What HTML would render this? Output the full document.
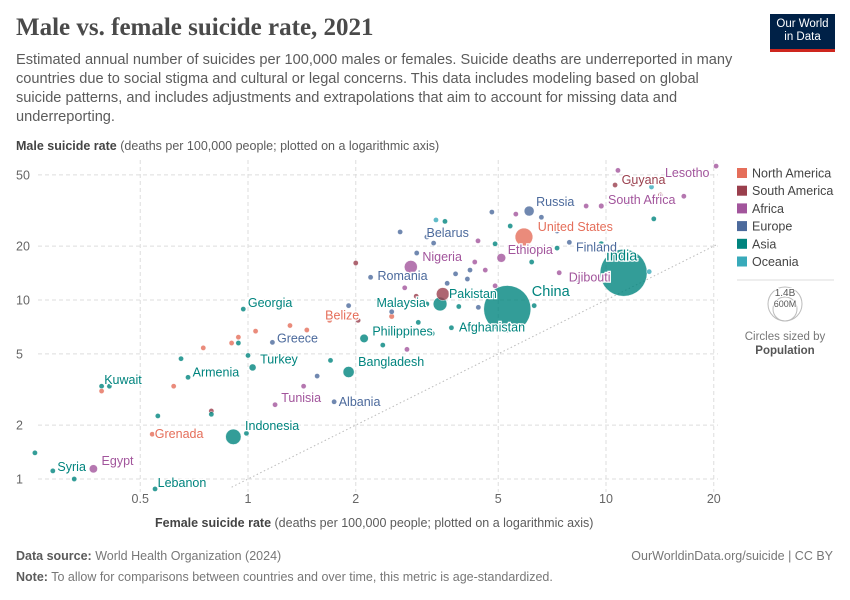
<!DOCTYPE html>
<html><head><meta charset="utf-8">
<style>
body{margin:0;background:#fff;font-family:"Liberation Sans",sans-serif;}
#wrap{position:relative;width:850px;height:600px;overflow:hidden;}
.t{position:absolute;white-space:nowrap;}
</style></head>
<body>
<div id="wrap">
<div class="t" style="left:16px;top:14px;font-family:'Liberation Serif',serif;font-size:25px;font-weight:bold;color:#4a4a4a;">Male vs. female suicide rate, 2021</div>
<div class="t" style="left:16px;top:51px;font-size:14.6px;line-height:19px;color:#5b5b5b;white-space:normal;width:720px;">Estimated annual number of suicides per 100,000 males or females. Suicide deaths are underreported in many countries due to social stigma and cultural or legal concerns. This data includes modeling based on global suicide patterns, and includes adjustments and extrapolations that aim to account for missing data and underreporting.</div>
<div style="position:absolute;left:770px;top:14px;width:65px;height:38px;background:#002147;border-bottom:3px solid #ce261e;color:#fff;font-size:11.5px;line-height:13px;text-align:center;padding-top:4px;box-sizing:border-box;">Our World<br>in Data</div>
<div class="t" style="left:16px;top:139px;font-size:12.5px;color:#5b5b5b;"><b style="color:#444">Male suicide rate</b> (deaths per 100,000 people; plotted on a logarithmic axis)</div>
<div class="t" style="left:155px;top:516px;font-size:12.5px;color:#5b5b5b;"><b style="color:#444">Female suicide rate</b> (deaths per 100,000 people; plotted on a logarithmic axis)</div>
<div class="t" style="left:16px;top:549px;font-size:12.5px;color:#777;"><b style="color:#5b5b5b">Data source:</b> World Health Organization (2024)</div>
<div class="t" style="right:17px;top:549px;font-size:12.5px;color:#777;">OurWorldinData.org/suicide | CC BY</div>
<div class="t" style="left:16px;top:570px;font-size:12.5px;color:#777;"><b style="color:#5b5b5b">Note:</b> To allow for comparisons between countries and over time, this metric is age-standardized.</div>
<svg id="plot" width="850" height="600" style="position:absolute;left:0;top:0;" font-family="Liberation Sans, sans-serif"></svg>
</div>
<script>
const xTicks=[0.5,1,2,5,10,20];
const yTicks=[1,2,5,10,20,50];
const legendRegions=["North America","South America","Africa","Europe","Asia","Oceania"];
const regionColors={"North America":"#e56e5a","South America":"#9a3f4d","Africa":"#a2559c","Europe":"#4c6a9c","Asia":"#00847e","Oceania":"#38aaba"};
// labeled countries
const labNames=["India","China","United States","Russia","Guyana","Lesotho","South Africa","Belarus","Ethiopia","Nigeria","Romania","Finland","Djibouti","Pakistan","Malaysia","Afghanistan","Philippines","Bangladesh","Georgia","Belize","Greece","Turkey","Armenia","Kuwait","Tunisia","Albania","Grenada","Indonesia","Egypt","Syria","Lebanon"];
const labRegion=["Asia","Asia","North America","Europe","South America","Africa","Africa","Europe","Africa","Africa","Europe","Europe","Africa","Asia","Asia","Asia","Asia","Asia","Asia","North America","Europe","Asia","Asia","Asia","Africa","Europe","North America","Asia","Africa","Asia","Asia"];
const labFemale=[11.2,5.3,5.9,6.1,10.6,20.3,9.7,3.16,5.1,2.85,2.54,7.9,7.4,3.44,3.16,3.7,2.11,1.91,0.97,1.69,1.17,1.03,0.68,0.39,1.43,1.74,0.54,0.91,0.37,0.285,0.55];
const labMale=[14.2,8.9,22.5,31.4,43.9,56,33.5,22.5,17.2,15.3,13.6,21,14.2,9.5,9.5,7.0,6.1,3.96,8.9,7.7,5.8,4.2,3.7,3.3,3.3,2.7,1.78,1.72,1.14,1.11,0.88];
const labPop=[1408,1412,335,144,0.8,2.3,60,9.3,120,213,19,5.5,1.1,231,33,40,113,169,3.7,0.4,10.4,85,2.8,4.3,12,2.8,0.12,274,109,21,5.6];
// label offsets (text placement, not data)
const labOff=[[-2,-16,'middle',14.5],[-1,-17,'start',14.5],[3,-10,'start',12.5],[0,-9,'start',12.5],[2,-5,'start',12.5],[-2,7,'end',12.5],[2,-6,'start',12.5],[-5,-4,'start',12.5],[0,-8,'start',12.5],[3,-10,'start',12.5],[-20,0,'start',12.5],[2,5,'start',12.5],[5,5,'start',12.5],[0,-10,'start',12.5],[-55,-1,'start',12.5],[3,0,'start',12.5],[2,-7,'start',12.5],[2,-10,'start',12.5],[0,-6,'start',12.5],[-9,-5,'start',12.5],[0,-4,'start',12.5],[2,-8,'start',12.5],[0,-5,'start',12.5],[-2,-6,'start',12.5],[-27,12,'start',12.5],[0,0,'start',12.5],[-2,0,'start',12.5],[2,-11,'start',12.5],[2,-8,'start',12.5],[0,-4,'start',12.5],[-2,-6,'start',12.5]];
// unlabeled countries
const uRegion=["Oceania","South America","South America","Asia","Oceania","Africa","Asia","Oceania","Asia","Europe","Africa","Oceania","Europe","Asia","Africa","Africa","Africa","Europe","Europe","Europe","Europe","Europe","Europe","Oceania","Asia","Europe","South America","Europe","Africa","Europe","Europe","South America","North America","South America","South America","Asia","Europe","Asia","Asia","Asia","Europe","Asia","Asia","Africa","Asia","Asia","Europe","Europe","North America","North America","North America","North America","North America","Asia","Asia","North America","Asia","North America","North America","Asia","Asia","South America","Asia","Africa","Asia","Asia","Asia","Africa","Africa","Europe","Africa"];
const uFemale=[13.4,11.9,14.2,13.6,11.5,8.8,9.7,13.2,5.4,4.8,5.6,5.75,7.3,4.9,4.39,4.3,4.6,4.17,4.1,3.8,3.6,2.96,3.3,3.35,3.55,2.66,2.0,2.2,2.74,2.52,1.91,2.03,2.52,2.95,3.5,3.88,4.4,6.3,6.2,7.3,8.4,3.27,2.99,2.78,2.38,1.7,1.56,1.55,1.46,1.31,1.05,0.94,0.9,0.94,1.0,0.75,0.65,0.62,0.39,0.41,0.56,0.79,0.79,1.19,0.99,0.254,0.327,16.5,10.8,6.6,4.9];
const uMale=[42.8,44.5,38.6,28.4,34.8,33.5,20.6,14.4,25.9,31,30.2,19.5,24.3,20.6,21.4,16.3,14.7,14.7,13.1,14,12.4,18.3,20.8,28,27.5,24,16.1,13.4,11.7,8.6,9.3,7.7,8.1,10.5,10.8,9.2,9.1,9.3,16.3,19.5,12.8,6.5,7.5,5.3,5.6,4.6,3.76,6.1,6.8,7.2,6.7,6.2,5.75,5.75,4.9,5.4,4.7,3.3,3.1,3.3,2.25,2.4,2.3,2.6,1.8,1.4,1.0,38,53,29,12];
const uPop=[1,3,0.8,30,0.3,20,60,0.3,30,10,25,0.5,6,4,15,12,30,10,5,7,30,3,2,0.5,35,5,5,4,20,17,8,10,60,7,210,10,5,5,5,30,5,10,5,5,6,30,3,2,1,1,1,0.5,0.3,5,35,1,3,1,1,5,4,10,10,10,6,1,1,2,12,2,10];

const svg=document.getElementById('plot');
const NS='http://www.w3.org/2000/svg';
const X=v=>248+358*Math.log10(v);
const Y=v=>479-179*Math.log10(v);
const R=p=>Math.max(2.6,23.5*Math.pow(p/1412,0.68));
function mk(tag,attrs,parent){const e=document.createElementNS(NS,tag);for(const k in attrs)e.setAttribute(k,attrs[k]);(parent||svg).appendChild(e);return e;}

const grid=mk('g',{});


yTicks.forEach(v=>{
  const l=mk('line',{x1:38,x2:718,y1:Y(v),y2:Y(v),stroke:'#ddd','stroke-dasharray':'4,3'},grid);
  
  
  const t=mk('text',{x:16,y:Y(v)+4.5,'font-size':12.5,fill:'#666'});
  t.textContent=v;
  
  
});
xTicks.forEach(v=>{
  const l=mk('line',{x1:X(v),x2:X(v),y1:160,y2:492,stroke:'#ddd','stroke-dasharray':'4,3'},grid);
  
  
  const t=mk('text',{x:X(v),y:503,'font-size':12.5,fill:'#666','text-anchor':'middle'});
  t.textContent=v;
  
  
});
const diag=mk('line',{x1:X(0.9),y1:Y(0.9),x2:X(20.5),y2:Y(20.5),stroke:'#bbb','stroke-dasharray':'1.5,2.5'});



const pts=[];
uFemale.forEach((f,i)=>pts.push({x:f,y:uMale[i],p:uPop[i],r:uRegion[i],n:null}));
labFemale.forEach((f,i)=>pts.push({x:f,y:labMale[i],p:labPop[i],r:labRegion[i],n:i}));
pts.sort((a,b)=>b.p-a.p);
pts.forEach(d=>{
  const c=mk('circle',{cx:X(d.x),cy:Y(d.y),r:R(d.p),fill:regionColors[d.r],'fill-opacity':0.8,stroke:'#fff','stroke-width':0.4});
  
  
});
labNames.forEach((n,i)=>{
  const o=labOff[i];const r=R(labPop[i]);
  let dx=o[2]==='end'?-r-2+o[0]:(o[2]==='middle'?o[0]:r+2+o[0]);
  const t=mk('text',{x:X(labFemale[i])+dx,y:Y(labMale[i])+o[1]+4,'font-size':o[3],fill:regionColors[labRegion[i]],'text-anchor':o[2],stroke:'#fff','stroke-width':2.5,'paint-order':'stroke'});
  t.textContent=n;
  
  
});
// legend
legendRegions.forEach((r,i)=>{
  const g=mk('g',{});
  
  
  mk('rect',{x:737,y:168+i*17.7,width:10,height:10,fill:regionColors[r]},g);
  const t=mk('text',{x:752,y:177.5+i*17.7,'font-size':12.5,fill:'#444'},g);
  t.textContent=r;
});
const sep=mk('line',{x1:737,x2:834,y1:280,y2:280,stroke:'#ddd'});


const sz=mk('g',{});


mk('circle',{cx:785,cy:304,r:17,fill:'none',stroke:'#bbb'},sz);
mk('circle',{cx:785,cy:309,r:12,fill:'none',stroke:'#bbb'},sz);
[['1.4B',296,10],['600M',307,9],].forEach(a=>{const t=mk('text',{x:785,y:a[1],'font-size':a[2],fill:'#555','text-anchor':'middle',stroke:'#fff','stroke-width':2,'paint-order':'stroke'},sz);t.textContent=a[0];});
const s1=mk('text',{x:785,y:340,'font-size':11.5,fill:'#777','text-anchor':'middle'},sz);s1.textContent='Circles sized by';
const s2=mk('text',{x:785,y:354,'font-size':11.5,fill:'#555','text-anchor':'middle','font-weight':'bold'},sz);s2.textContent='Population';
</script>
</body></html>
